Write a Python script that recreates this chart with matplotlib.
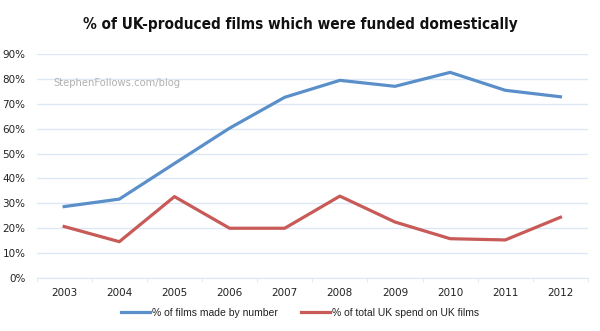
import matplotlib
matplotlib.use('Agg')
import matplotlib.pyplot as plt
from matplotlib.ticker import FixedLocator, PercentFormatter

years = ['2003', '2004', '2005', '2006', '2007', '2008', '2009', '2010', '2011', '2012']
by_number = [28.7, 31.7, 46.0, 60.2, 72.6, 79.4, 77.0, 82.6, 75.4, 72.8]
by_spend = [20.7, 14.6, 32.7, 20.0, 20.0, 32.9, 22.5, 15.8, 15.3, 24.4]

blue = '#5b8fca'
red = '#c85a57'
grid_blue = '#dce8f6'

fig = plt.figure(figsize=(6, 3.31), dpi=100)
ax = fig.add_axes([0.061, 0.16, 0.919, 0.677])

x = range(len(years))
ax.plot(x, by_number, color=blue, lw=2.3, solid_joinstyle='round',
        label='% of films made by number')
ax.plot(x, by_spend, color=red, lw=2.3, solid_joinstyle='round',
        label='% of total UK spend on UK films')

ax.set_xlim(-0.5, len(years) - 0.5)
ax.set_ylim(0, 90)
ax.set_yticks(range(0, 91, 10))
ax.yaxis.set_major_formatter(PercentFormatter(decimals=0))
ax.set_xticks(list(x))
ax.set_xticklabels(years)
# category separators between the years
ax.xaxis.set_minor_locator(FixedLocator([i - 0.5 for i in range(len(years) + 1)]))

ax.grid(axis='y', color=grid_blue, lw=1)
ax.set_axisbelow(True)
for side in ('left', 'right', 'top'):
    ax.spines[side].set_visible(False)
ax.spines['bottom'].set_color(grid_blue)
ax.tick_params(axis='y', length=0, pad=8, labelsize=7.5, labelcolor='#222222')
ax.tick_params(axis='x', which='major', length=0, pad=7, labelsize=7.5, labelcolor='#222222')
ax.tick_params(axis='x', which='minor', length=3, color=grid_blue, direction='out')

fig.text(0.5, 0.925, '% of UK-produced films which were funded domestically',
         ha='center', va='center', fontsize=11, fontweight='bold',
         fontstretch='condensed', color='#111111')

ax.text(0.03, 0.87, 'StephenFollows.com/blog', transform=ax.transAxes,
        fontsize=8, color='#b0b0b0', ha='left', va='center',
        fontstretch='condensed')

fig.legend(loc='center', bbox_to_anchor=(0.5, 0.055), ncol=2, frameon=False,
           handlelength=2.8, handletextpad=0.15, columnspacing=2.2,
           labelcolor='#222222', prop={'family': 'Liberation Sans', 'size': 7.5})

fig.savefig('out.png', dpi=100, facecolor='white')
